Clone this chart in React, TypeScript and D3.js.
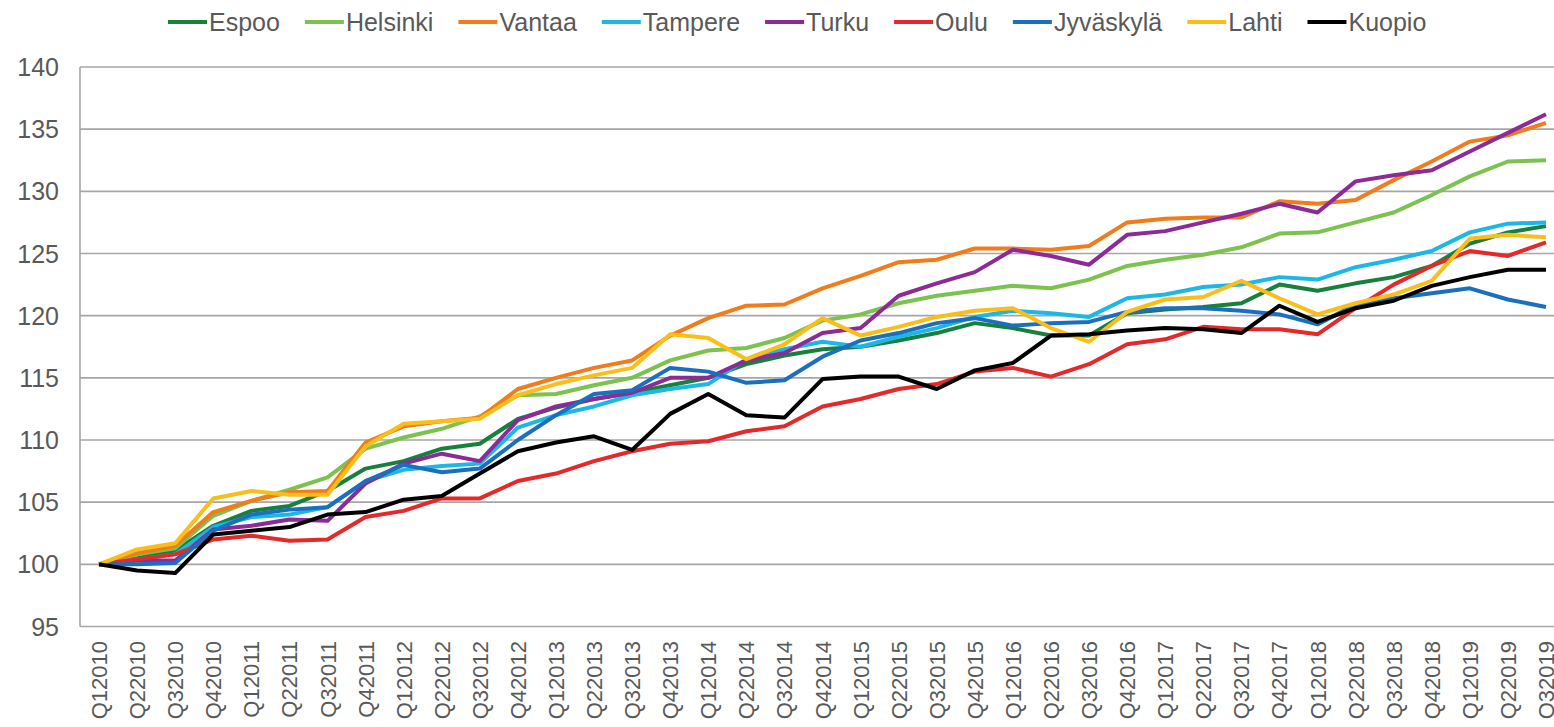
import React, { useEffect, useRef } from "react";
import * as d3 from "d3";

// quarters Q1 2010 .. Q3 2019
const quarters: string[] = [];
for (let y = 2010; y <= 2019; y++) {
  for (let q = 1; q <= 4; q++) {
    if (y === 2019 && q > 3) break;
    quarters.push("Q" + q + y);
  }
}

const cities = ["Espoo", "Helsinki", "Vantaa", "Tampere", "Turku", "Oulu", "Jyväskylä", "Lahti", "Kuopio"];
const colors = ["#17803d", "#7cc24e", "#f07c1b", "#1bb8e6", "#8c2b98", "#e4292b", "#1b6fbf", "#fbbd17", "#000000"];

const espoo = [100, 100.5, 101.1, 103.1, 104.3, 104.7, 105.9, 107.7, 108.3, 109.3, 109.7, 111.7, 112.6, 113.3, 113.8, 114.4, 115.0, 116.1, 116.8, 117.3, 117.5, 118.0, 118.6, 119.4, 119.0, 118.4, 118.4, 120.2, 120.5, 120.7, 121.0, 122.5, 122.0, 122.6, 123.1, 124.0, 125.8, 126.7, 127.2];
const helsinki = [100, 100.8, 101.3, 103.9, 105.1, 106.0, 107.0, 109.3, 110.2, 110.9, 111.9, 113.6, 113.7, 114.4, 115.0, 116.4, 117.2, 117.4, 118.2, 119.6, 120.1, 121.0, 121.6, 122.0, 122.4, 122.2, 122.9, 124.0, 124.5, 124.9, 125.5, 126.6, 126.7, 127.5, 128.3, 129.7, 131.2, 132.4, 132.5];
const vantaa = [100, 100.9, 101.5, 104.2, 105.1, 105.8, 105.9, 109.8, 111.1, 111.5, 111.8, 114.1, 115.0, 115.8, 116.4, 118.4, 119.8, 120.8, 120.9, 122.2, 123.2, 124.3, 124.5, 125.4, 125.4, 125.3, 125.6, 127.5, 127.8, 127.9, 127.9, 129.2, 129.0, 129.3, 130.9, 132.4, 134.0, 134.5, 135.5];
const tampere = [100, 100.4, 100.8, 103.0, 103.8, 104.0, 104.6, 106.7, 107.6, 107.9, 108.1, 111.0, 112.0, 112.7, 113.6, 114.1, 114.5, 116.5, 117.3, 117.9, 117.5, 118.3, 119.0, 119.9, 120.4, 120.2, 119.9, 121.4, 121.7, 122.3, 122.5, 123.1, 122.9, 123.9, 124.5, 125.2, 126.7, 127.4, 127.5];
const turku = [100, 100.3, 100.3, 102.8, 103.1, 103.6, 103.5, 106.5, 108.1, 108.9, 108.3, 111.6, 112.7, 113.3, 113.8, 115.0, 115.0, 116.4, 117.0, 118.6, 119.0, 121.6, 122.6, 123.5, 125.3, 124.8, 124.1, 126.5, 126.8, 127.5, 128.2, 129.0, 128.3, 130.8, 131.3, 131.7, 133.2, 134.7, 136.2];
const oulu = [100, 100.4, 100.8, 102.0, 102.3, 101.9, 102.0, 103.8, 104.3, 105.3, 105.3, 106.7, 107.3, 108.3, 109.1, 109.7, 109.9, 110.7, 111.1, 112.7, 113.3, 114.1, 114.5, 115.5, 115.8, 115.1, 116.1, 117.7, 118.1, 119.1, 118.9, 118.9, 118.5, 120.6, 122.5, 124.0, 125.2, 124.8, 125.9];
const jyvaskyla = [100, 100.0, 100.1, 102.7, 104.0, 104.4, 104.6, 106.7, 108.0, 107.4, 107.7, 110.0, 112.0, 113.7, 114.0, 115.8, 115.5, 114.6, 114.8, 116.7, 118.0, 118.6, 119.4, 119.8, 119.2, 119.4, 119.5, 120.3, 120.6, 120.6, 120.4, 120.1, 119.3, 120.9, 121.4, 121.8, 122.2, 121.3, 120.7];
const lahti = [100, 101.2, 101.7, 105.3, 105.9, 105.6, 105.6, 109.5, 111.3, 111.5, 111.7, 113.6, 114.5, 115.2, 115.8, 118.5, 118.2, 116.5, 117.7, 119.8, 118.4, 119.1, 119.9, 120.4, 120.6, 119.0, 117.9, 120.3, 121.3, 121.5, 122.8, 121.4, 120.1, 121.0, 121.7, 122.8, 126.2, 126.5, 126.3];
const kuopio = [100, 99.5, 99.3, 102.4, 102.7, 103.0, 104.0, 104.2, 105.2, 105.5, 107.3, 109.1, 109.8, 110.3, 109.2, 112.1, 113.7, 112.0, 111.8, 114.9, 115.1, 115.1, 114.1, 115.6, 116.2, 118.4, 118.5, 118.8, 119.0, 118.9, 118.6, 120.8, 119.5, 120.6, 121.2, 122.4, 123.1, 123.7, 123.7];

const series = [espoo, helsinki, vantaa, tampere, turku, oulu, jyvaskyla, lahti, kuopio];
const yTicks = [95, 100, 105, 110, 115, 120, 125, 130, 135, 140];

const FONT = "'Liberation Sans', Arial, sans-serif";
const TEXT = "#595959";

export default function App() {
  const ref = useRef<SVGSVGElement>(null);

  useEffect(() => {
    const width = 1554, height = 727;
    const left = 80, right = 1565, top = 67, bottom = 626.5;

    const svg = d3.select(ref.current);
    svg.selectAll("*").remove();

    const x = d3.scalePoint<string>().domain(quarters).range([left, right]).padding(0.5);
    const y = d3.scaleLinear().domain([95, 140]).range([bottom, top]);

    // gridlines
    svg.append("g")
      .selectAll("line")
      .data(yTicks)
      .enter()
      .append("line")
      .attr("x1", left)
      .attr("x2", right)
      .attr("y1", d => y(d))
      .attr("y2", d => y(d))
      .attr("stroke", "#a6a6a6")
      .attr("stroke-width", 1.6);

    // left axis line
    svg.append("line")
      .attr("x1", left).attr("x2", left)
      .attr("y1", top).attr("y2", bottom)
      .attr("stroke", "#a6a6a6")
      .attr("stroke-width", 1.6);

    // y labels
    svg.append("g")
      .selectAll("text")
      .data(yTicks)
      .enter()
      .append("text")
      .attr("x", 59)
      .attr("y", d => y(d))
      .attr("dy", "0.36em")
      .attr("text-anchor", "end")
      .attr("font-family", FONT)
      .attr("font-size", 25)
      .attr("fill", TEXT)
      .text(d => d);

    // x labels, rotated
    svg.append("g")
      .selectAll("text")
      .data(quarters)
      .enter()
      .append("text")
      .attr("transform", d => `translate(${x(d)! + 8},641) rotate(-90)`)
      .attr("text-anchor", "end")
      .attr("font-family", FONT)
      .attr("font-size", 22)
      .attr("fill", TEXT)
      .text(d => d);

    // lines
    const line = d3.line<number>()
      .x((_, i) => x(quarters[i])!)
      .y(d => y(d));

    svg.append("g")
      .selectAll("path")
      .data(series)
      .enter()
      .append("path")
      .attr("d", d => line(d))
      .attr("fill", "none")
      .attr("stroke", (_, i) => colors[i])
      .attr("stroke-width", 4)
      .attr("stroke-linejoin", "round");

    // legend, laid out left to right
    const legend = svg.append("g");
    let lx = 168;
    cities.forEach((c, i) => {
      legend.append("line")
        .attr("x1", lx).attr("x2", lx + 39)
        .attr("y1", 22).attr("y2", 22)
        .attr("stroke", colors[i])
        .attr("stroke-width", 4);
      const t = legend.append("text")
        .attr("x", lx + 41)
        .attr("y", 22)
        .attr("dy", "0.36em")
        .attr("font-family", FONT)
        .attr("font-size", 25)
        .attr("fill", TEXT)
        .text(c);
      const w = (t.node() as SVGTextElement).getComputedTextLength();
      lx += 41 + w + 25;
    });

    svg.attr("width", width).attr("height", height);
  }, []);

  return (
    <div style={{ position: "absolute", left: 0, top: 0, background: "#fff" }}>
      <svg ref={ref} width={1554} height={727} style={{ display: "block" }} />
    </div>
  );
}
